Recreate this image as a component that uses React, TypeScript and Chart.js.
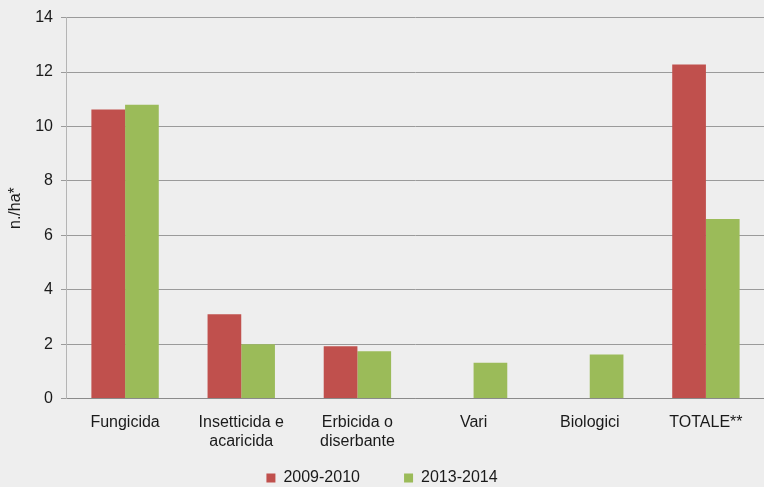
import React, { useEffect, useRef } from "react";
import { Chart, registerables } from "chart.js";

Chart.register(...registerables);

const categories: (string | string[])[] = [
  "Fungicida",
  ["Insetticida e", "acaricida"],
  ["Erbicida o", "diserbante"],
  "Vari",
  "Biologici",
  "TOTALE**",
];
const series2009: (number | null)[] = [10.62, 3.1, 1.92, null, null, 12.28];
const series2013: (number | null)[] = [10.8, 2.0, 1.74, 1.32, 1.62, 6.6];
const seriesLabels = ["2009-2010", "2013-2014"];
const yTitle = "n./ha*";

const FONT = "'Liberation Sans', Arial, sans-serif";
const FS = 16;

const bgPlugin = {
  id: "bg",
  beforeDraw(chart: any) {
    const ctx = chart.ctx;
    ctx.save();
    ctx.fillStyle = "#eeeeee";
    ctx.fillRect(0, 0, chart.width, chart.height);
    ctx.restore();
  },
};

export default function App() {
  const ref = useRef<HTMLCanvasElement>(null);
  useEffect(() => {
    document.body.style.margin = "0";
    const chart = new Chart(ref.current!, {
      type: "bar",
      data: {
        labels: categories,
        datasets: [
          {
            label: seriesLabels[0],
            data: series2009,
            backgroundColor: "#c0504d",
            borderWidth: 0,
            categoryPercentage: 0.58,
            barPercentage: 1.0,
          },
          {
            label: seriesLabels[1],
            data: series2013,
            backgroundColor: "#9bbb59",
            borderWidth: 0,
            categoryPercentage: 0.58,
            barPercentage: 1.0,
          },
        ],
      },
      options: {
        animation: false,
        responsive: false,
        layout: { padding: { top: 17, right: 0, left: 0, bottom: 0 } },
        scales: {
          x: {
            grid: { display: false },
            border: { display: true, color: "#8a8a8a", width: 1 },
            ticks: {
              color: "#1a1a1a",
              font: { family: FONT, size: FS },
              maxRotation: 0,
              padding: 6,
            },
          },
          y: {
            min: 0,
            max: 14,
            ticks: {
              stepSize: 2,
              color: "#1a1a1a",
              font: { family: FONT, size: FS },
              padding: 8,
            },
            grid: { color: "#9a9a9a", lineWidth: 1, tickLength: 6 },
            border: { display: true, color: "#b4b4b4" },
            title: {
              display: true,
              text: yTitle,
              color: "#1a1a1a",
              font: { family: FONT, size: FS },
              padding: { top: 6, bottom: 2 },
            },
          },
        },
        plugins: {
          legend: {
            position: "bottom",
            labels: {
              boxWidth: 9,
              boxHeight: 9,
              padding: 13,
              color: "#1a1a1a",
              font: { family: FONT, size: FS },
              generateLabels(chart: any) {
                const items = Chart.defaults.plugins.legend.labels.generateLabels(chart);
                return items.map((it: any, i: number) => ({
                  ...it,
                  text: i < items.length - 1 ? it.text + "       " : it.text,
                  lineWidth: 0,
                }));
              },
            },
          },
          tooltip: { enabled: false },
        },
      },
      plugins: [bgPlugin],
    });
    return () => chart.destroy();
  }, []);
  return (
    <div style={{ width: 764, height: 487, overflow: "hidden", background: "#eeeeee" }}>
      <canvas ref={ref} width={764} height={496} style={{ display: "block" }} />
    </div>
  );
}
